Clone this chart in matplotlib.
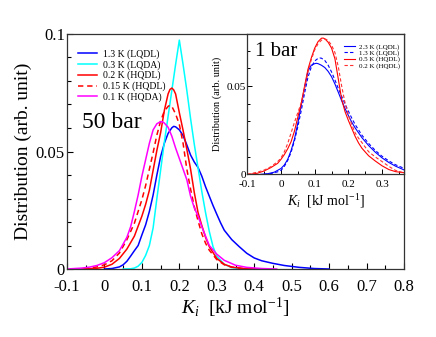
import matplotlib
matplotlib.use("Agg")
import matplotlib.pyplot as plt
from matplotlib.ticker import MultipleLocator, FixedLocator, FixedFormatter

plt.rcParams['font.family'] = ['Liberation Serif', 'DejaVu Serif']
plt.rcParams['mathtext.fontset'] = 'custom'
plt.rcParams['mathtext.rm'] = 'Liberation Serif'
plt.rcParams['mathtext.it'] = 'Liberation Serif:italic'
plt.rcParams['axes.unicode_minus'] = False

# ---------------- main panel (50 bar) ----------------
x_13K = [0.0, 0.02, 0.04, 0.05, 0.06, 0.07, 0.08, 0.09, 0.10, 0.11, 0.12, 0.13, 0.14, 0.15, 0.16, 0.17,
         0.18, 0.185, 0.19, 0.20, 0.21, 0.22, 0.23, 0.24, 0.25, 0.26, 0.27, 0.28, 0.29, 0.30, 0.31, 0.32,
         0.34, 0.36, 0.38, 0.40, 0.42, 0.45, 0.48, 0.52, 0.56, 0.60]
y_13K = [0.0, 0.0002, 0.0009, 0.0018, 0.0033, 0.0055, 0.0078, 0.010, 0.0145, 0.0188, 0.0245, 0.0315,
         0.040, 0.0478, 0.0535, 0.0577, 0.0601, 0.0607, 0.0605, 0.0592, 0.0568, 0.0528, 0.0485, 0.0455,
         0.0432, 0.0395, 0.035, 0.031, 0.027, 0.0233, 0.0197, 0.0165, 0.0125, 0.0095, 0.0067, 0.0047,
         0.0035, 0.0024, 0.0015, 0.0007, 0.0002, 0.0]

x_03K = [0.05, 0.07, 0.08, 0.09, 0.10, 0.11, 0.12, 0.13, 0.14, 0.15, 0.16, 0.17, 0.18, 0.19, 0.20,
         0.21, 0.22, 0.23, 0.24, 0.25, 0.26, 0.27, 0.28, 0.29, 0.30, 0.32, 0.34, 0.37]
y_03K = [0.0, 0.0001, 0.0004, 0.0012, 0.0028, 0.0058, 0.0100, 0.0175, 0.030, 0.042, 0.054, 0.065,
         0.076, 0.087, 0.0974, 0.087, 0.076, 0.064, 0.053, 0.043, 0.033, 0.024, 0.016, 0.0095, 0.0055,
         0.002, 0.0006, 0.0]

x_02K = [-0.06, -0.04, -0.02, 0.0, 0.02, 0.04, 0.06, 0.08, 0.10, 0.11, 0.12, 0.13, 0.14, 0.15, 0.16,
         0.17, 0.175, 0.18, 0.185, 0.19, 0.20, 0.21, 0.22, 0.23, 0.24, 0.25, 0.26, 0.27, 0.28, 0.30,
         0.32, 0.34, 0.37, 0.42]
y_02K = [0.0, 0.0001, 0.0003, 0.0008, 0.002, 0.0045, 0.0085, 0.014, 0.0225, 0.0275, 0.0335, 0.042,
         0.0505, 0.058, 0.0675, 0.0745, 0.0764, 0.077, 0.0762, 0.0745, 0.0665, 0.059, 0.051, 0.0425,
         0.0325, 0.024, 0.0185, 0.0135, 0.0095, 0.0045, 0.002, 0.0008, 0.0002, 0.0]

x_015K = [-0.08, -0.06, -0.04, -0.02, 0.0, 0.02, 0.04, 0.06, 0.08, 0.09, 0.10, 0.11, 0.12, 0.13, 0.14,
          0.15, 0.16, 0.17, 0.175, 0.18, 0.19, 0.20, 0.21, 0.22, 0.23, 0.24, 0.25, 0.26, 0.27, 0.28,
          0.30, 0.32, 0.34, 0.37, 0.42]
y_015K = [0.0, 0.0001, 0.0003, 0.0009, 0.0018, 0.0035, 0.0068, 0.0125, 0.0195, 0.0245, 0.0295, 0.0355,
          0.0425, 0.0495, 0.057, 0.063, 0.0672, 0.0692, 0.0697, 0.0692, 0.066, 0.0615, 0.0535, 0.0425,
          0.034, 0.0265, 0.0205, 0.015, 0.011, 0.008, 0.004, 0.0018, 0.0008, 0.0002, 0.0]

x_01K = [-0.10, -0.08, -0.06, -0.04, -0.02, 0.0, 0.02, 0.04, 0.06, 0.07, 0.08, 0.09, 0.10, 0.11, 0.12,
         0.13, 0.14, 0.15, 0.155, 0.16, 0.17, 0.18, 0.19, 0.20, 0.21, 0.22, 0.23, 0.24, 0.25, 0.26,
         0.28, 0.30, 0.32, 0.35, 0.38, 0.42, 0.46]
y_01K = [0.0, 0.0002, 0.0004, 0.0008, 0.0015, 0.0027, 0.0048, 0.0078, 0.0135, 0.018, 0.0245, 0.0315,
         0.0395, 0.0465, 0.0535, 0.0592, 0.0618, 0.0627, 0.0626, 0.0621, 0.0603, 0.0565, 0.0515, 0.047,
         0.0425, 0.038, 0.031, 0.026, 0.0225, 0.018, 0.010, 0.0063, 0.0037, 0.0016, 0.0007, 0.0002, 0.0]

main_labels = ['1.3 K (LQDL)', '0.3 K (LQDA)', '0.2 K (HQDL)', '0.15 K (HQDL)', '0.1 K (HQDA)']
main_xticks = [-0.1, 0.0, 0.1, 0.2, 0.3, 0.4, 0.5, 0.6, 0.7, 0.8]
main_xticklabels = ['-0.1', '0', '0.1', '0.2', '0.3', '0.4', '0.5', '0.6', '0.7', '0.8']
main_yticks = [0.0, 0.05, 0.1]
main_yticklabels = ['0', '0.05', '0.1']

# ---------------- inset (1 bar) ----------------
xi_23K = [-0.06, -0.04, -0.02, 0.0, 0.01, 0.02, 0.03, 0.04, 0.05, 0.06, 0.07, 0.08, 0.09, 0.10, 0.105,
          0.11, 0.12, 0.13, 0.14, 0.15, 0.16, 0.17, 0.18, 0.19, 0.20, 0.21, 0.22, 0.24, 0.26, 0.28,
          0.30, 0.32, 0.34, 0.365]
yi_23K = [0.0, 0.0003, 0.0012, 0.0033, 0.0053, 0.0085, 0.0135, 0.020, 0.029, 0.039, 0.049, 0.0585,
          0.0618, 0.0627, 0.0629, 0.0627, 0.0618, 0.0605, 0.0583, 0.0553, 0.0512, 0.0465, 0.0417,
          0.0373, 0.0333, 0.0295, 0.0263, 0.0208, 0.0163, 0.0125, 0.0093, 0.0067, 0.0046, 0.0025]

xi_13K = [-0.05, -0.03, -0.01, 0.0, 0.01, 0.02, 0.03, 0.04, 0.05, 0.06, 0.07, 0.08, 0.09, 0.10, 0.11,
          0.115, 0.12, 0.13, 0.14, 0.15, 0.16, 0.17, 0.18, 0.19, 0.20, 0.21, 0.22, 0.24, 0.26, 0.28,
          0.30, 0.32, 0.34, 0.365]
yi_13K = [0.0, 0.0004, 0.0014, 0.0022, 0.0045, 0.0079, 0.0125, 0.019, 0.027, 0.036, 0.046, 0.055,
          0.0608, 0.0642, 0.0657, 0.0659, 0.0658, 0.0645, 0.0618, 0.058, 0.0535, 0.0487, 0.0442,
          0.0398, 0.0358, 0.0318, 0.0282, 0.0222, 0.0175, 0.0135, 0.0102, 0.0076, 0.0054, 0.0034]

xi_05K = [-0.09, -0.07, -0.05, -0.03, -0.01, 0.0, 0.01, 0.02, 0.03, 0.04, 0.05, 0.06, 0.07, 0.08,
          0.09, 0.10, 0.11, 0.12, 0.125, 0.13, 0.14, 0.15, 0.16, 0.17, 0.18, 0.19, 0.20, 0.21, 0.22,
          0.23, 0.24, 0.26, 0.28, 0.30, 0.32, 0.34, 0.365]
yi_05K = [0.0001, 0.0006, 0.0019, 0.0038, 0.0062, 0.0085, 0.0112, 0.0145, 0.0185, 0.0245, 0.0325,
          0.040, 0.050, 0.0595, 0.066, 0.0715, 0.0752, 0.0771, 0.0772, 0.0768, 0.0748, 0.0715, 0.0655,
          0.054, 0.0425, 0.0355, 0.0305, 0.026, 0.0215, 0.0178, 0.0148, 0.0105, 0.0075, 0.0048,
          0.0027, 0.0015, 0.0009]

xi_02K = [-0.1, -0.09, -0.07, -0.05, -0.03, -0.01, 0.0, 0.01, 0.02, 0.03, 0.04, 0.05, 0.06, 0.07,
          0.08, 0.09, 0.10, 0.11, 0.12, 0.13, 0.135, 0.14, 0.15, 0.16, 0.17, 0.18, 0.19, 0.20, 0.21,
          0.22, 0.23, 0.24, 0.26, 0.28, 0.30, 0.32, 0.34, 0.365]
yi_02K = [0.0002, 0.0004, 0.0012, 0.0024, 0.0043, 0.0072, 0.0092, 0.0128, 0.0175, 0.0235, 0.0295,
          0.035, 0.0405, 0.049, 0.058, 0.065, 0.0705, 0.074, 0.076, 0.0766, 0.0764, 0.0757, 0.0732,
          0.069, 0.061, 0.050, 0.0405, 0.0335, 0.0282, 0.0235, 0.0205, 0.018, 0.0128, 0.0098, 0.0072,
          0.0045, 0.0022, 0.0008]

inset_labels = ['2.3 K (LQDL)', '1.3 K (LQDL)', '0.5 K (HQDL)', '0.2 K (HQDL)']
inset_xticks = [-0.1, 0.0, 0.1, 0.2, 0.3]
inset_xticklabels = ['-0.1', '0', '0.1', '0.2', '0.3']
inset_yticks = [0.0, 0.05]
inset_yticklabels = ['0', '0.05']

W, H = 436, 337
fig = plt.figure(figsize=(W / 100, H / 100), dpi=100)

def frac(l, t, r, b):
    return [l / W, 1 - b / H, (r - l) / W, (b - t) / H]

ax = fig.add_axes(frac(67, 34, 404, 269))
lw = 1.1
ax.plot(x_13K, y_13K, color='#0000ff', lw=lw, label=main_labels[0])
ax.plot(x_03K, y_03K, color='#00ffff', lw=lw, label=main_labels[1])
ax.plot(x_02K, y_02K, color='#ff0000', lw=lw, label=main_labels[2])
ax.plot(x_015K, y_015K, color='#ff0000', lw=lw, ls=(0, (3.5, 2.5)), label=main_labels[3])
ax.plot(x_01K, y_01K, color='#ff00ff', lw=lw, label=main_labels[4])
ax.set_xlim(-0.1, 0.8)
ax.set_ylim(0, 0.1)
ax.xaxis.set_major_locator(FixedLocator(main_xticks))
ax.xaxis.set_major_formatter(FixedFormatter(main_xticklabels))
ax.xaxis.set_minor_locator(MultipleLocator(0.05))
ax.yaxis.set_major_locator(FixedLocator(main_yticks))
ax.yaxis.set_major_formatter(FixedFormatter(main_yticklabels))
ax.yaxis.set_minor_locator(MultipleLocator(0.01))
ax.tick_params(which='both', direction='in', top=False, right=False, labelsize=12)
ax.tick_params(axis='x', pad=7)
ax.tick_params(axis='y', pad=1.5)
ax.tick_params(which='major', length=4.5, width=0.8)
ax.tick_params(which='minor', length=3, width=0.8)
for s in ax.spines.values():
    s.set_linewidth(0.9)
    s.set_color('#333333')
ax.set_xlabel(r'$K_i$  [kJ mol$^{-1}$]', fontsize=14, labelpad=1)
ax.set_ylabel('Distribution (arb. unit)', fontsize=14, labelpad=3)
ax.text(0.045, 0.60, '50 bar', transform=ax.transAxes, fontsize=17, ha='left', va='baseline')
ax.legend(loc='upper left', bbox_to_anchor=(0.016, 0.96), frameon=False, fontsize=7,
          handlelength=1.95, handletextpad=0.55, labelspacing=0.12, borderaxespad=0.2)

# inset
ai = fig.add_axes(frac(247.3, 34, 404, 174.3))
ai.set_facecolor('white')
lwi = 0.8
ai.plot(xi_23K, yi_23K, color='#0000ff', lw=lwi, label=inset_labels[0])
ai.plot(xi_13K, yi_13K, color='#0000ff', lw=lwi, ls=(0, (3, 2)), label=inset_labels[1])
ai.plot(xi_05K, yi_05K, color='#ff0000', lw=lwi, label=inset_labels[2])
ai.plot(xi_02K, yi_02K, color='#ff3030', lw=lwi, ls=(0, (3, 2)), label=inset_labels[3])
ai.set_xlim(-0.1, 0.365)
ai.set_ylim(0, 0.0795)
ai.xaxis.set_major_locator(FixedLocator(inset_xticks))
ai.xaxis.set_major_formatter(FixedFormatter(inset_xticklabels))
ai.xaxis.set_minor_locator(MultipleLocator(0.05))
ai.yaxis.set_major_locator(FixedLocator(inset_yticks))
ai.yaxis.set_major_formatter(FixedFormatter(inset_yticklabels))
ai.yaxis.set_minor_locator(MultipleLocator(0.01))
ai.tick_params(which='both', direction='in', top=False, right=False, labelsize=8)
ai.tick_params(axis='x', pad=4)
ai.tick_params(axis='y', pad=1)
ai.tick_params(which='major', length=3.5, width=0.7)
ai.tick_params(which='minor', length=2.5, width=0.7)
for s in ai.spines.values():
    s.set_linewidth(0.9)
    s.set_color('#333333')
ai.set_xlabel(r'$K_i$  [kJ mol$^{-1}$]', fontsize=10, labelpad=2)
ai.set_ylabel('Distribution (arb. unit)', fontsize=7.5, labelpad=3)
ai.text(0.05, 0.84, '1 bar', transform=ai.transAxes, fontsize=15, ha='left', va='baseline')
ai.legend(loc='upper right', bbox_to_anchor=(1.0, 0.96), frameon=False, fontsize=5,
          handlelength=1.6, handletextpad=0.6, labelspacing=0.0, borderaxespad=0.2)

fig.savefig('out.png', dpi=100)
